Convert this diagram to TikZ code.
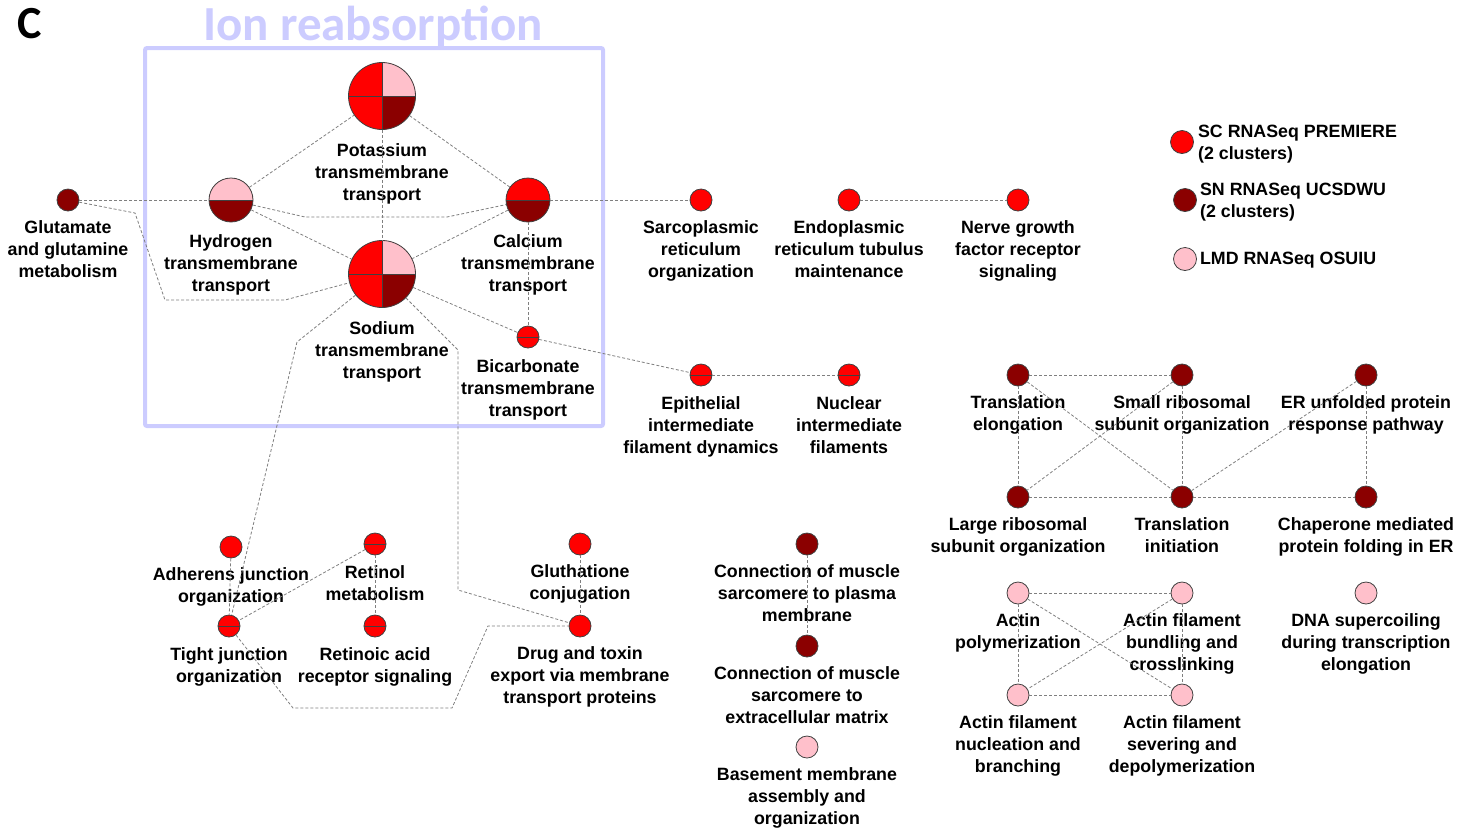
\documentclass[tikz,border=0pt]{standalone}
\usepackage{fontspec}
\setmainfont{Liberation Sans}
\newfontfamily\calfont{Carlito}
\usetikzlibrary{positioning}

\definecolor{scred}{HTML}{FF0000}
\definecolor{sndark}{HTML}{8B0000}
\definecolor{lmdpink}{HTML}{FFC0CB}
\definecolor{ionblue}{HTML}{CCCCFF}
\definecolor{linkgray}{HTML}{7F7F7F}

\begin{document}
\begin{tikzpicture}[x=1pt, y=-1pt,
  go/.style={circle, draw=black!75, line width=0.8pt, inner sep=0pt, minimum size=22pt},
  sc/.style={go, fill=scred},
  sn/.style={go, fill=sndark},
  lmd/.style={go, fill=lmdpink},
  sc2/.style={sc, path picture={\draw[black!75, line width=0.8pt] (path picture bounding box.west) -- (path picture bounding box.east);}},
  halves/.style 2 args={go, minimum size=44pt, fill=#2, path picture={\fill[#1] (path picture bounding box.west) rectangle (path picture bounding box.north east); \draw[black!75, line width=0.8pt] (path picture bounding box.west) -- (path picture bounding box.east);}},
  quad/.style={go, minimum size=67pt, fill=scred, path picture={\fill[lmdpink] (path picture bounding box.center) rectangle (path picture bounding box.north east); \fill[sndark] (path picture bounding box.center) rectangle (path picture bounding box.south east); \draw[black!75, line width=0.8pt] (path picture bounding box.north) -- (path picture bounding box.south) (path picture bounding box.west) -- (path picture bounding box.east);}},
  lbl/.style={font=\fontsize{17.8}{22}\selectfont\bfseries, align=center, inner sep=0pt},
  lnk/.style={draw=linkgray, line width=0.8pt, dash pattern=on 3pt off 2pt}
]
\useasboundingbox (0,0) rectangle (1473,831);

% panel letter and ion box
\node[font=\calfont\fontsize{46}{46}\selectfont\bfseries, anchor=base west, inner sep=0pt] (panel) at (17,38) {C};
\draw[ionblue, line width=4pt, rounded corners=2pt] (145,48) rectangle (603,426);
\node[font=\calfont\fontsize{49}{49}\selectfont\bfseries, text=ionblue, anchor=base, inner sep=0pt] (ttl) at (373,40) {Ion reabsorption};

% ion reabsorption cluster
\node[quad] (pot) at (382,96) {};
\node[lbl, below=13pt of pot] (potT) {Potassium\\transmembrane\\transport};
\node[quad] (sod) at (382,274) {};
\node[lbl, below=13.5pt of sod] (sodT) {Sodium\\transmembrane\\transport};
\node[halves={lmdpink}{sndark}] (hyd) at (231,200) {};
\node[lbl, below=12pt of hyd] (hydT) {Hydrogen\\transmembrane\\transport};
\node[halves={scred}{sndark}] (cal) at (528,200) {};
\node[lbl, below=12pt of cal] (calT) {Calcium\\transmembrane\\transport};
\node[sc2] (bic) at (528,337) {};
\node[lbl, below=10.5pt of bic] (bicT) {Bicarbonate\\transmembrane\\transport};
\node[sn] (glu) at (68,200) {};
\node[lbl, below=9pt of glu] (gluT) {Glutamate\\and glutamine\\metabolism};

% top row
\node[sc] (sar) at (701,200) {};
\node[lbl, below=9pt of sar] (sarT) {Sarcoplasmic\\reticulum\\organization};
\node[sc] (endo) at (849,200) {};
\node[lbl, below=9pt of endo] (endoT) {Endoplasmic\\reticulum tubulus\\maintenance};
\node[sc] (ngf) at (1018,200) {};
\node[lbl, below=9pt of ngf] (ngfT) {Nerve growth\\factor receptor\\signaling};
\node[sc2] (epi) at (701,375) {};
\node[lbl, below=9.5pt of epi] (epiT) {Epithelial\\intermediate\\filament dynamics};
\node[sc2] (nuc) at (849,375) {};
\node[lbl, below=9.5pt of nuc] (nucT) {Nuclear\\intermediate\\filaments};

% translation cluster
\node[sn] (tel) at (1018,375) {};
\node[lbl, below=9pt of tel] (telT) {Translation\\elongation};
\node[sn] (ssu) at (1182,375) {};
\node[lbl, below=9pt of ssu] (ssuT) {Small ribosomal\\subunit organization};
\node[sn] (eru) at (1366,375) {};
\node[lbl, below=9pt of eru] (eruT) {ER unfolded protein\\response pathway};
\node[sn] (lsu) at (1018,497) {};
\node[lbl, below=9pt of lsu] (lsuT) {Large ribosomal\\subunit organization};
\node[sn] (tin) at (1182,497) {};
\node[lbl, below=9pt of tin] (tinT) {Translation\\initiation};
\node[sn] (cha) at (1366,497) {};
\node[lbl, below=9pt of cha] (chaT) {Chaperone mediated\\protein folding in ER};

% actin cluster
\node[lmd] (apol) at (1018,593) {};
\node[lbl, below=9pt of apol] (apolT) {Actin\\polymerization};
\node[lmd] (abun) at (1182,593) {};
\node[lbl, below=9pt of abun] (abunT) {Actin filament\\bundling and\\crosslinking};
\node[lmd] (dna) at (1366,593) {};
\node[lbl, below=9pt of dna] (dnaT) {DNA supercoiling\\during transcription\\elongation};
\node[lmd] (anuc) at (1018,695) {};
\node[lbl, below=9pt of anuc] (anucT) {Actin filament\\nucleation and\\branching};
\node[lmd] (asev) at (1182,695) {};
\node[lbl, below=9pt of asev] (asevT) {Actin filament\\severing and\\depolymerization};

% muscle column
\node[sn] (cpm) at (807,544) {};
\node[lbl, below=9pt of cpm] (cpmT) {Connection of muscle\\sarcomere to plasma\\membrane};
\node[sn] (cecm) at (807,646) {};
\node[lbl, below=9pt of cecm] (cecmT) {Connection of muscle\\sarcomere to\\extracellular matrix};
\node[lmd] (bm) at (807,747) {};
\node[lbl, below=9pt of bm] (bmT) {Basement membrane\\assembly and\\organization};

% junction cluster
\node[sc] (adh) at (231,547) {};
\node[lbl, below=9pt of adh] (adhT) {Adherens junction\\organization};
\node[sc2] (ret) at (375,544) {};
\node[lbl, below=9.5pt of ret] (retT) {Retinol\\metabolism};
\node[sc2] (tj) at (229,626) {};
\node[lbl, below=9.5pt of tj] (tjT) {Tight junction\\organization};
\node[sc2] (ra) at (375,626) {};
\node[lbl, below=9.5pt of ra] (raT) {Retinoic acid\\receptor signaling};
\node[sc] (glt) at (580,544) {};
\node[lbl, below=9pt of glt] (gltT) {Gluthatione\\conjugation};
\node[sc] (drug) at (580,626) {};
\node[lbl, below=9pt of drug] (drugT) {Drug and toxin\\export via membrane\\transport proteins};

% legend
\node[sc, minimum size=23pt] (lgsc) at (1182,142) {};
\node[lbl, align=left, right=4pt of lgsc, yshift=-2.5pt] (lgscT) {SC RNASeq PREMIERE\\(2 clusters)};
\node[sn, minimum size=23pt] (lgsn) at (1185,200) {};
\node[lbl, align=left, right=3pt of lgsn, yshift=-2pt] (lgsnT) {SN RNASeq UCSDWU\\(2 clusters)};
\node[lmd, minimum size=23pt] (lglmd) at (1185,259) {};
\node[lbl, align=left, right=3pt of lglmd, yshift=-1.5pt] (lglmdT) {LMD RNASeq OSUIU};

% links
\draw[lnk] (glu) -- (hyd);
\draw[lnk] (glu) -- (135,213) -- (165,300) -- (285,300) -- (sod);
\draw[lnk] (hyd) -- (305,217) -- (447,217) -- (cal);
\draw[lnk] (hyd) -- (pot);
\draw[lnk] (hyd) -- (sod);
\draw[lnk] (cal) -- (pot);
\draw[lnk] (cal) -- (sod);
\draw[lnk] (pot) -- (sod);
\draw[lnk] (cal) -- (bic);
\draw[lnk] (sod) -- (bic);
\draw[lnk] (cal) -- (sar);
\draw[lnk] (endo) -- (ngf);
\draw[lnk] (bic) -- (epi);
\draw[lnk] (epi) -- (nuc);
\draw[lnk] (sod) -- (297,342) -- (tj);
\draw[lnk] (sod) -- (458,350) -- (458,590) -- (drug);
\draw[lnk] (adh) -- (tj);
\draw[lnk] (ret) -- (tj);
\draw[lnk] (ret) -- (ra);
\draw[lnk] (tj) -- (293,708) -- (452,708) -- (488,626) -- (drug);
\draw[lnk] (glt) -- (drug);
\draw[lnk] (cpm) -- (cecm);
\draw[lnk] (tel) -- (ssu);
\draw[lnk] (tel) -- (lsu);
\draw[lnk] (tel) -- (tin);
\draw[lnk] (ssu) -- (lsu);
\draw[lnk] (ssu) -- (tin);
\draw[lnk] (eru) -- (tin);
\draw[lnk] (eru) -- (cha);
\draw[lnk] (lsu) -- (tin);
\draw[lnk] (tin) -- (cha);
\draw[lnk] (apol) -- (abun);
\draw[lnk] (apol) -- (anuc);
\draw[lnk] (apol) -- (asev);
\draw[lnk] (abun) -- (anuc);
\draw[lnk] (abun) -- (asev);
\draw[lnk] (anuc) -- (asev);

\end{tikzpicture}
\end{document}
